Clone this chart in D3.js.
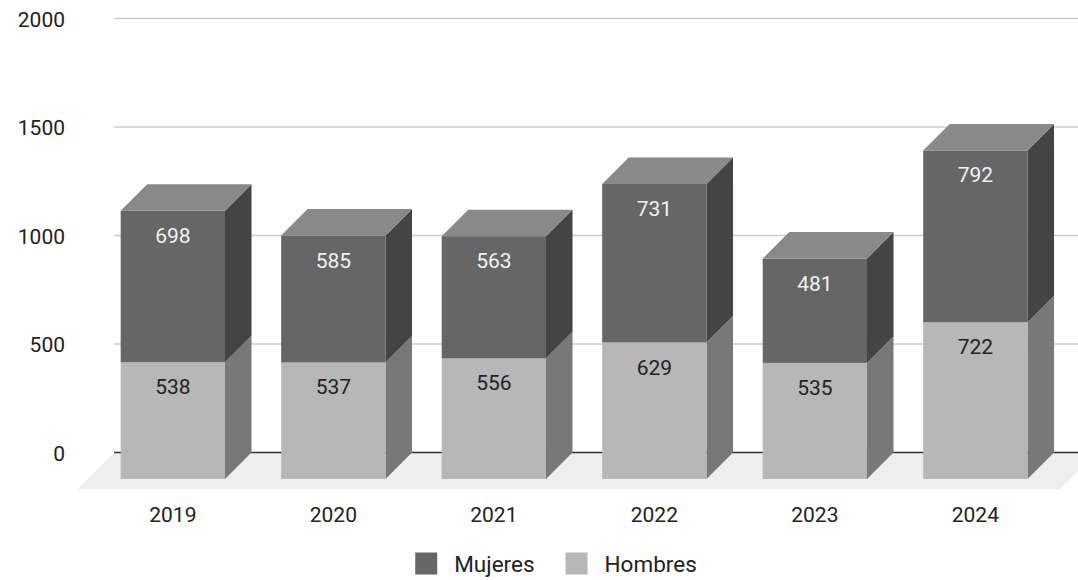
<!DOCTYPE html>
<html>
<head>
<meta charset="utf-8">
<script src="https://cdn.jsdelivr.net/npm/d3@7"></script>
<style>
  html, body { margin: 0; padding: 0; background: #fff; }
  svg { display: block; font-family: Roboto, "Noto Sans", sans-serif; }
</style>
</head>
<body>
<svg id="chart" width="1078" height="580"></svg>
<script>
// data
const years = ['2019', '2020', '2021', '2022', '2023', '2024'];
const mujeres = [698, 585, 563, 731, 481, 792];
const hombres = [538, 537, 556, 629, 535, 722];
const yTicks = [0, 500, 1000, 1500, 2000];
const seriesNames = ['Hombres', 'Mujeres'];

const W = 1078, H = 580;
const depth = 26.5;      // bar depth offset
const floorDepth = 37;   // floor is a bit deeper than the bars

const colors = {
  Mujeres: { front: '#666666', side: '#444444', top: '#898989', label: '#f2f2f2' },
  Hombres: { front: '#b7b7b7', side: '#787878', top: '#cfcfcf', label: '#222222' }
};

const svg = d3.select('#chart');

// y scale lives on the back wall, bars are pushed forward by `depth`
const y = d3.scaleLinear().domain([0, 2000]).range([452.5, 18.5]);

// x scale is the front plane of the bars
const x = d3.scaleBand()
    .domain(years)
    .range([64.5, 1083.7])
    .paddingInner(0.35)
    .paddingOuter(0.35);

const rows = years.map((yr, i) => ({ year: yr, Hombres: hombres[i], Mujeres: mujeres[i] }));
const stacked = d3.stack().keys(seriesNames)(rows);

// floor
const fx0 = 114, fx1 = W + 19;
svg.append('path')
    .attr('d', `M${fx0},${y(0)} L${fx1},${y(0)} L${fx1 - floorDepth},${y(0) + floorDepth} L${fx0 - floorDepth},${y(0) + floorDepth} Z`)
    .attr('fill', '#eeeeee');

// gridlines
svg.append('g')
  .selectAll('line')
  .data(yTicks)
  .join('line')
    .attr('x1', 114)
    .attr('x2', W)
    .attr('y1', d => y(d))
    .attr('y2', d => y(d))
    .attr('stroke', d => d === 0 ? '#333333' : '#cccccc')
    .attr('stroke-width', 1.3);

// y labels
const yAxis = svg.append('g')
    .attr('transform', 'translate(114,0)')
    .call(d3.axisLeft(y).tickValues(yTicks).tickSize(0).tickPadding(49).tickFormat(d3.format('d')));
yAxis.select('.domain').remove();
yAxis.selectAll('text')
    .attr('dy', '0.36em')
    .attr('fill', '#222')
    .style('font-size', '21px')
    .style('font-family', 'Roboto, sans-serif');

// bars
const bw = x.bandwidth();
stacked.forEach(layer => {
  const c = colors[layer.key];
  const g = svg.append('g').attr('class', 'layer-' + layer.key);
  layer.forEach((d, i) => {
    const x0 = x(years[i]);
    const yt = y(d[1]) + depth;
    const yb = y(d[0]) + depth;
    // side face
    g.append('path')
        .attr('d', `M${x0 + bw},${yt} L${x0 + bw + depth},${yt - depth} L${x0 + bw + depth},${yb - depth} L${x0 + bw},${yb} Z`)
        .attr('fill', c.side);
    // front face
    g.append('rect')
        .attr('x', x0).attr('y', yt)
        .attr('width', bw).attr('height', yb - yt)
        .attr('fill', c.front);
    // top face only on the upper segment
    if (layer.key === 'Mujeres') {
      g.append('path')
          .attr('d', `M${x0},${yt} L${x0 + depth},${yt - depth} L${x0 + bw + depth},${yt - depth} L${x0 + bw},${yt} Z`)
          .attr('fill', c.top);
    }
    // value label
    g.append('text')
        .attr('x', x0 + bw / 2)
        .attr('y', yt + 32)
        .attr('text-anchor', 'middle')
        .attr('fill', c.label)
        .style('font-size', '21px')
        .text(d.data[layer.key]);
  });
});

// category labels
const xAxis = svg.append('g')
    .attr('transform', `translate(0,${y(0) + floorDepth})`)
    .call(d3.axisBottom(x).tickSize(0).tickPadding(18));
xAxis.select('.domain').remove();
xAxis.selectAll('text')
    .attr('fill', '#222')
    .style('font-size', '21px')
    .style('font-family', 'Roboto, sans-serif');

// legend
const legendItems = ['Mujeres', 'Hombres'];
const legend = svg.append('g');
let lx = 0;
legendItems.forEach((name, i) => {
  const item = legend.append('g').attr('transform', `translate(${lx},0)`);
  item.append('rect')
      .attr('x', 0).attr('y', 552.5)
      .attr('width', 22).attr('height', 22)
      .attr('fill', colors[name].front);
  const t = item.append('text')
      .attr('x', 39).attr('y', 571.7)
      .attr('fill', '#222')
      .style('font-size', '22.5px')
      .text(name);
  lx += 39 + t.node().getComputedTextLength() + 31;
});
const lw = lx - 31;
legend.attr('transform', `translate(${556 - lw / 2},0)`);
</script>
</body>
</html>
